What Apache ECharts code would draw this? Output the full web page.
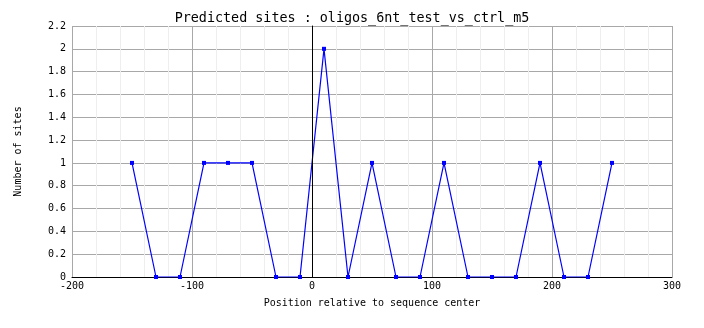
<!DOCTYPE html>
<html><head><meta charset="utf-8">
<script src="https://cdn.jsdelivr.net/npm/echarts@6/dist/echarts.min.js"></script>
<style>html,body{margin:0;padding:0;background:#fff}#c{width:704px;height:328px}</style>
</head><body><div id="c"></div>
<script>
const titleText = "Predicted sites : oligos_6nt_test_vs_ctrl_m5";
const xLabel = "Position relative to sequence center";
const yLabel = "Number of sites";
const positions = [-150,-130,-110,-90,-70,-50,-30,-10,10,30,50,70,90,110,130,150,170,190,210,230,250];
const sites =     [1,0,0,1,1,1,0,0,2,0,1,0,0,1,0,0,0,1,0,0,1];

const font = "DejaVu Sans Mono";
const chart = echarts.init(document.getElementById('c'), null, {renderer:'canvas'});
chart.setOption({
  animation:false,
  backgroundColor:'#fff',
  title:{text:titleText,left:'center',top:7,textStyle:{fontFamily:font,fontSize:13.4,fontWeight:'normal',color:'#000'}},
  grid:{left:72,right:32,top:26,bottom:51},
  xAxis:{type:'value',min:-200,max:300,interval:100,
    name:xLabel,nameLocation:'middle',nameGap:21,
    nameTextStyle:{fontFamily:font,fontSize:10,color:'#000'},
    axisLine:{onZero:false,lineStyle:{color:'#000',width:1}},
    axisTick:{show:false},
    axisLabel:{fontFamily:font,fontSize:10,color:'#000',margin:4},
    splitLine:{show:true,lineStyle:{color:'#a8a8a8',width:1}},
    minorTick:{show:false,splitNumber:5},
    minorSplitLine:{show:true,lineStyle:{color:'#eeeeee',width:1}}
  },
  yAxis:{type:'value',min:0,max:2.2,interval:0.2,
    name:yLabel,nameLocation:'middle',nameGap:49,nameRotate:90,
    nameTextStyle:{fontFamily:font,fontSize:10,color:'#000'},
    axisLine:{show:true,lineStyle:{color:'#000',width:1}},
    axisTick:{show:false},
    axisLabel:{fontFamily:font,fontSize:10,color:'#000',margin:6,
      formatter:v=>String(parseFloat(v.toFixed(1)))},
    splitLine:{show:true,lineStyle:{color:'#a8a8a8',width:1}}
  },
  series:[{type:'line',data:positions.map((p,i)=>[p,sites[i]]),
    lineStyle:{color:'#0000ff',width:1.2},
    itemStyle:{color:'#0000ff'},
    symbol:'rect',symbolSize:4,showSymbol:true,
    markLine:{silent:true,symbol:'none',label:{show:false},
      lineStyle:{color:'#000',width:1,type:'solid'},
      data:[{xAxis:0}]}
  }]
});
</script></body></html>
